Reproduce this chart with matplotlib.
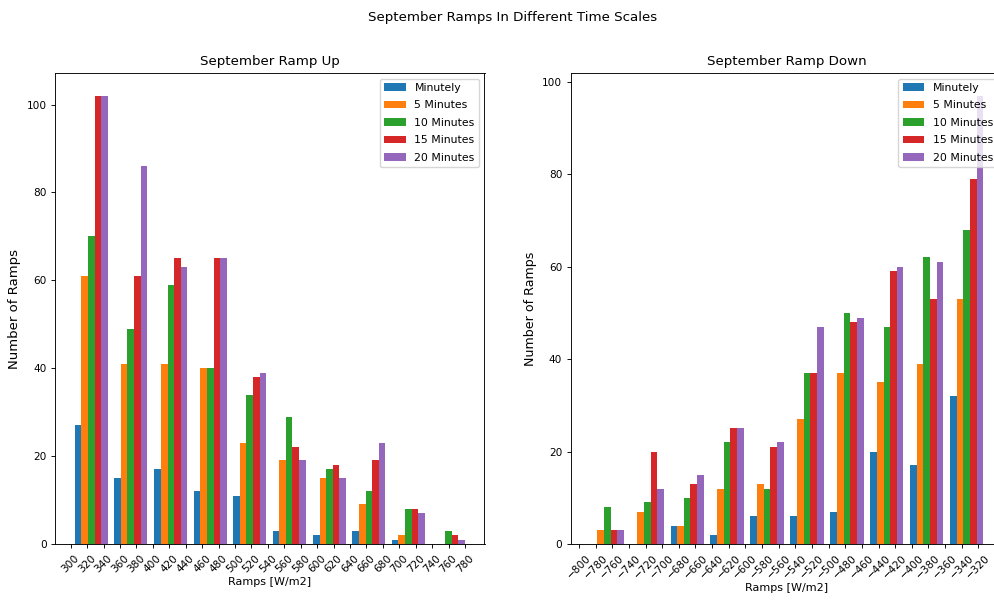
import numpy as np
import matplotlib
matplotlib.use("Agg")
import matplotlib.pyplot as plt

# ---------------- data ----------------
series_names = ["Minutely", "5 Minutes", "10 Minutes", "15 Minutes", "20 Minutes"]

# Ramp up (bin centres, W/m2)
up_bins = np.array([325, 373, 422, 470, 518, 566, 615, 663, 711, 760])
up_minutely = [27, 15, 17, 12, 11, 3, 2, 3, 1, 0]
up_5min = [61, 41, 41, 40, 23, 19, 15, 9, 2, 0]
up_10min = [70, 49, 59, 40, 34, 29, 17, 12, 8, 3]
up_15min = [102, 61, 65, 65, 38, 22, 18, 19, 8, 2]
up_20min = [102, 86, 63, 65, 39, 19, 15, 23, 7, 1]
up_ticks = list(range(300, 781, 20))

# Ramp down (bin centres, W/m2)
down_bins = np.array([-766, -718, -670, -622, -574, -526, -478, -430, -382, -334])
down_minutely = [0, 0, 4, 2, 6, 6, 7, 20, 17, 32]
down_5min = [3, 7, 4, 12, 13, 27, 37, 35, 39, 53]
down_10min = [8, 9, 10, 22, 12, 37, 50, 47, 62, 68]
down_15min = [3, 20, 13, 25, 21, 37, 48, 59, 53, 79]
down_20min = [3, 12, 15, 25, 22, 47, 49, 60, 61, 97]
down_ticks = list(range(-800, -319, 20))

colors = ["#1f77b4", "#ff7f0e", "#2ca02c", "#d62728", "#9467bd"]
bar_w = 8

# ---------------- figure ----------------
plt.rcParams["font.family"] = ["DejaVu Sans"]
plt.rcParams["axes.linewidth"] = 0.65
plt.rcParams["xtick.major.width"] = 0.65
plt.rcParams["ytick.major.width"] = 0.65
plt.rcParams["xtick.major.size"] = 2.8
plt.rcParams["ytick.major.size"] = 2.8

fig = plt.figure(figsize=(9.94, 6.01), dpi=100)
W, H = 994, 601

def px_axes(x0, y0, x1, y1):
    return fig.add_axes([x0 / W, 1 - y1 / H, (x1 - x0) / W, (y1 - y0) / H])

ax1 = px_axes(55.3, 73.3, 484.5, 544)
ax2 = px_axes(571, 73.3, 1003, 544)

def draw(ax, bins, series, ticks, title, ylab_size):
    for i, (vals, name) in enumerate(zip(series, series_names)):
        ax.bar(bins + (i - 2) * bar_w, vals, bar_w, color=colors[i], label=name)
    ax.set_xticks(ticks)
    ax.set_xticklabels([str(t).replace("-", "\u2212") for t in ticks], rotation=45, fontsize=7.6)
    ax.tick_params(axis="y", labelsize=7.6)
    ax.set_yticks([0, 20, 40, 60, 80, 100])
    ax.set_title(title, fontsize=9.6, pad=6)
    ax.set_xlabel("Ramps [W/m2]", fontsize=8.0, labelpad=2)
    ax.set_ylabel("Number of Ramps", fontsize=ylab_size)
    ax.legend(loc="upper right", fontsize=7.8, labelspacing=0.68)

draw(ax1, up_bins, [up_minutely, up_5min, up_10min, up_15min, up_20min], up_ticks,
     "September Ramp Up", 9.5)
draw(ax2, down_bins, [down_minutely, down_5min, down_10min, down_15min, down_20min], down_ticks,
     "September Ramp Down", 9.1)

fig.text(513 / W, 1 - 18 / H, "September Ramps In Different Time Scales",
         ha="center", va="center", fontsize=9.6)

fig.savefig("out.png", dpi=100)
